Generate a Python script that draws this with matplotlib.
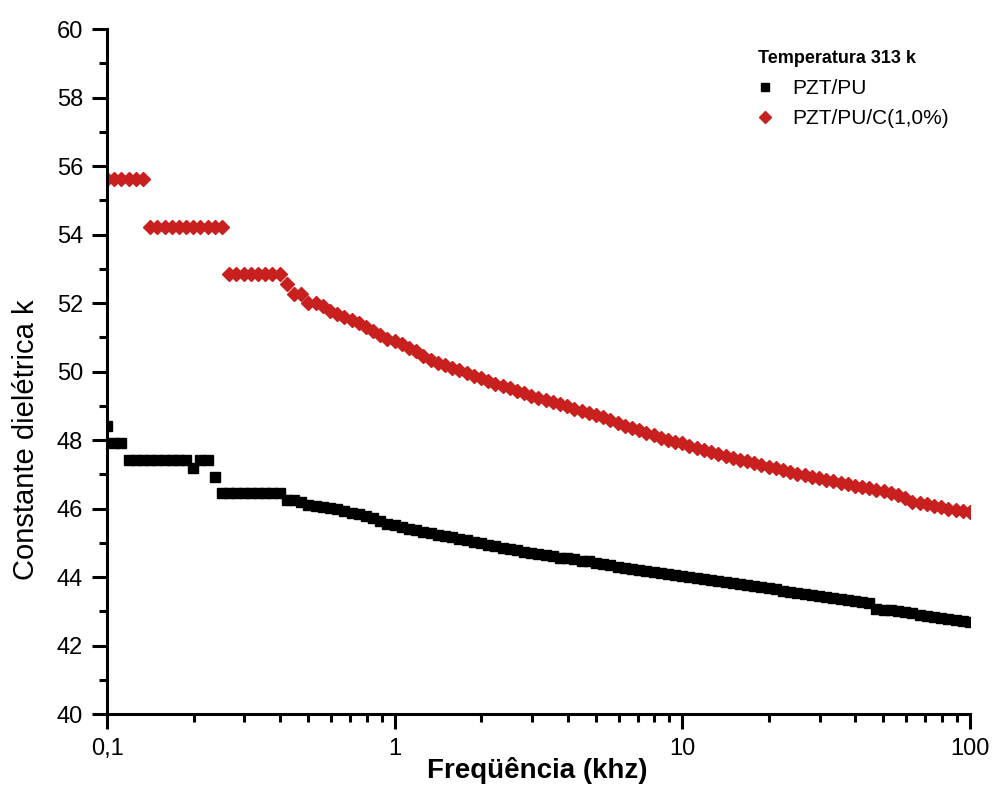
import matplotlib
matplotlib.use("Agg")
import matplotlib.pyplot as plt
from matplotlib.ticker import FixedLocator, NullFormatter

plt.rcParams['font.family'] = ['Liberation Sans', 'DejaVu Sans']

# frequency sweep, 40 points per decade (mantissas of one decade)
mant = [1.000, 1.059, 1.122, 1.189, 1.259, 1.334, 1.413, 1.496, 1.585, 1.679,
        1.778, 1.884, 1.995, 2.113, 2.239, 2.371, 2.512, 2.661, 2.818, 2.985,
        3.162, 3.350, 3.548, 3.758, 3.981, 4.217, 4.467, 4.732, 5.012, 5.309,
        5.623, 5.957, 6.310, 6.683, 7.079, 7.499, 7.943, 8.414, 8.913, 9.441]
freq = [m * d for d in (0.1, 1, 10) for m in mant] + [100.0]

# PZT/PU (black squares)
k_pu = [48.41, 47.90, 47.90, 47.42, 47.42, 47.42, 47.42, 47.42, 47.42, 47.42,
        47.42, 47.42, 47.17, 47.42, 47.42, 46.93, 46.44, 46.44, 46.44, 46.44,
        46.44, 46.44, 46.44, 46.44, 46.44, 46.25, 46.25, 46.18, 46.10, 46.08,
        46.05, 46.02, 45.98, 45.93, 45.88, 45.83, 45.77, 45.71, 45.63, 45.56,
        45.51, 45.46, 45.41, 45.36, 45.32, 45.28, 45.24, 45.20, 45.16, 45.12,
        45.07, 45.03, 44.98, 44.94, 44.90, 44.86, 44.82, 44.78, 44.74, 44.69,
        44.66, 44.63, 44.60, 44.57, 44.55, 44.52, 44.48, 44.46, 44.42, 44.38,
        44.34, 44.30, 44.26, 44.23, 44.20, 44.17, 44.14, 44.11, 44.08, 44.06,
        44.03, 44.00, 43.97, 43.94, 43.91, 43.88, 43.85, 43.82, 43.79, 43.76,
        43.73, 43.70, 43.67, 43.64, 43.60, 43.57, 43.54, 43.50, 43.47, 43.44,
        43.41, 43.38, 43.35, 43.32, 43.29, 43.26, 43.23, 43.08, 43.05, 43.03,
        43.00, 42.97, 42.94, 42.90, 42.87, 42.84, 42.81, 42.78, 42.75, 42.72,
        42.70]

# PZT/PU/C(1,0%) (red diamonds)
k_puc = [55.61, 55.61, 55.61, 55.61, 55.61, 55.61, 54.21, 54.21, 54.21, 54.21,
         54.21, 54.21, 54.21, 54.21, 54.21, 54.21, 54.21, 52.84, 52.84, 52.84,
         52.84, 52.84, 52.84, 52.84, 52.84, 52.55, 52.26, 52.26, 52.01, 52.01,
         51.90, 51.76, 51.68, 51.60, 51.50, 51.42, 51.30, 51.18, 51.06, 50.96,
         50.88, 50.80, 50.69, 50.60, 50.45, 50.34, 50.25, 50.18, 50.10, 50.04,
         49.96, 49.88, 49.80, 49.73, 49.65, 49.58, 49.51, 49.44, 49.37, 49.30,
         49.24, 49.18, 49.12, 49.05, 48.99, 48.92, 48.86, 48.80, 48.74, 48.67,
         48.58, 48.50, 48.42, 48.36, 48.28, 48.21, 48.14, 48.07, 48.00, 47.95,
         47.90, 47.84, 47.78, 47.72, 47.66, 47.60, 47.54, 47.49, 47.43, 47.38,
         47.32, 47.27, 47.22, 47.17, 47.12, 47.07, 47.02, 46.97, 46.92, 46.88,
         46.84, 46.80, 46.75, 46.71, 46.67, 46.63, 46.59, 46.54, 46.50, 46.45,
         46.40, 46.32, 46.20, 46.16, 46.12, 46.08, 46.04, 46.00, 45.96, 45.93,
         45.90]

xticks = [0.1, 1, 10, 100]
xticklabels = ["0,1", "1", "10", "100"]
yticks = [40, 42, 44, 46, 48, 50, 52, 54, 56, 58, 60]

fig = plt.figure(figsize=(9.93, 7.91), dpi=100)
ax = fig.add_axes([0.1078, 0.0973, 0.869, 0.866])

ax.plot(freq, k_pu, linestyle='none', marker='s', markersize=7.0,
        color='black', label='PZT/PU')
ax.plot(freq, k_puc, linestyle='none', marker='D', markersize=6.8,
        color='#c8201e', label='PZT/PU/C(1,0%)')

ax.set_xscale('log')
ax.set_xlim(0.1, 100)
ax.set_ylim(40, 60)

ax.set_xticks(xticks)
ax.set_xticklabels(xticklabels)
ax.xaxis.set_minor_locator(FixedLocator([m * d for d in (0.1, 1, 10) for m in range(2, 10)]))
ax.xaxis.set_minor_formatter(NullFormatter())
ax.set_yticks(yticks)
ax.yaxis.set_minor_locator(FixedLocator(range(41, 60, 2)))

for s in ('top', 'right'):
    ax.spines[s].set_visible(False)
for s in ('left', 'bottom'):
    ax.spines[s].set_linewidth(2.2)

ax.tick_params(which='major', direction='out', length=10.8, width=2.2,
               labelsize=17, pad=6.5)
ax.tick_params(which='minor', direction='out', length=5.8, width=2.2)

ax.set_xlabel('Freqüência (khz)', fontsize=20, fontweight='bold')
ax.xaxis.set_label_coords(0.498, -0.063)
ax.set_ylabel('Constante dielétrica k', fontsize=21)
ax.yaxis.set_label_coords(-0.078, 0.40)

leg = ax.legend(loc='upper left', bbox_to_anchor=(748 / 993, 1 - 40 / 791),
                bbox_transform=fig.transFigure, frameon=False,
                title='Temperatura 313 k', title_fontsize=13, fontsize=15,
                handlelength=0.6, handletextpad=1.0, labelspacing=0.55,
                markerscale=0.85, alignment='left', borderpad=0)
leg.get_title().set_fontweight('bold')

fig.savefig('out.png', dpi=100)
